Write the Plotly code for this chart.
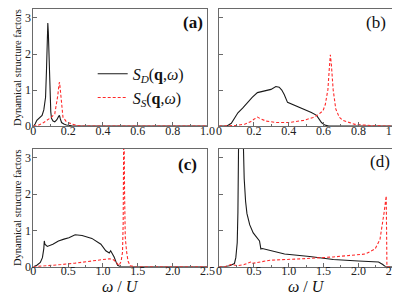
import plotly.graph_objects as go

# Panel (a)
xa_D = [0, 0.01, 0.02, 0.03, 0.05, 0.06, 0.07, 0.075, 0.08, 0.083, 0.086, 0.09, 0.095, 0.10, 0.104, 0.113, 0.123, 0.135, 0.145, 0.15, 0.155, 0.162, 0.175, 0.19, 0.22, 1.0]
ya_D = [0, 0.06, 0.16, 0.2, 0.3, 0.45, 0.8, 1.5, 2.5, 2.86, 2.6, 1.7, 0.9, 0.4, 0.22, 0.14, 0.12, 0.18, 0.27, 0.3, 0.2, 0.1, 0.06, 0.03, 0.01, 0.0]
xa_S = [0, 0.02, 0.05, 0.078, 0.104, 0.123, 0.132, 0.14, 0.147, 0.15, 0.153, 0.16, 0.17, 0.19, 0.225, 0.26, 0.3, 1.0]
ya_S = [0, 0.01, 0.07, 0.16, 0.25, 0.34, 0.57, 0.84, 1.15, 1.22, 1.1, 0.75, 0.25, 0.12, 0.05, 0.01, 0.0, 0.0]

# Panel (b)
xb_D = [0, 0.043, 0.07, 0.09, 0.108, 0.135, 0.164, 0.19, 0.22, 0.25, 0.298, 0.326, 0.345, 0.36, 0.374, 0.393, 0.44, 0.486, 0.53, 0.56, 0.575, 0.588, 0.607, 0.63, 1.0]
yb_D = [0, 0.0, 0.08, 0.25, 0.37, 0.5, 0.66, 0.8, 0.93, 0.96, 1.02, 1.1, 1.08, 1.0, 0.88, 0.66, 0.57, 0.48, 0.38, 0.3, 0.2, 0.1, 0.03, 0.0, 0.0]
xb_S = [0, 0.05, 0.1, 0.15, 0.18, 0.2, 0.22, 0.24, 0.27, 0.33, 0.40, 0.486, 0.54, 0.57, 0.597, 0.61, 0.625, 0.633, 0.639, 0.645, 0.655, 0.67, 0.69, 0.71, 0.78, 0.89, 1.0]
yb_S = [0, 0.0, 0.02, 0.06, 0.12, 0.19, 0.25, 0.2, 0.14, 0.1, 0.1, 0.16, 0.24, 0.32, 0.43, 0.6, 1.02, 1.6, 1.98, 1.7, 1.02, 0.48, 0.25, 0.16, 0.05, 0.01, 0.0]

# Panel (c)
xc_D = [0, 0.05, 0.1, 0.13, 0.15, 0.157, 0.165, 0.18, 0.2, 0.28, 0.36, 0.44, 0.51, 0.6, 0.70, 0.84, 0.97, 1.04, 1.09, 1.11, 1.13, 1.16, 1.19, 1.21, 1.25, 2.5]
yc_D = [0, 0.04, 0.12, 0.25, 0.5, 0.71, 0.62, 0.58, 0.56, 0.62, 0.71, 0.76, 0.8, 0.88, 0.86, 0.78, 0.62, 0.44, 0.38, 0.44, 0.38, 0.27, 0.12, 0.04, 0.0, 0.0]
xc_S = [0, 0.2, 0.4, 0.6, 0.8, 0.97, 1.09, 1.13, 1.16, 1.2, 1.23, 1.26, 1.28, 1.29, 1.3, 1.31, 1.32, 1.34, 1.36, 1.39, 1.45, 2.5]
yc_S = [0, 0.02, 0.06, 0.1, 0.15, 0.2, 0.22, 0.21, 0.18, 0.1, 0.03, 0.15, 0.4, 1.2, 4.5, 2.0, 0.8, 0.4, 0.15, 0.03, 0.0, 0.0]

# Panel (d)
xd_D = [0, 0.08, 0.15, 0.22, 0.24, 0.26, 0.27, 0.28, 0.29, 0.31, 0.33, 0.35, 0.36, 0.38, 0.40, 0.44, 0.49, 0.58, 0.60, 0.62, 0.94, 1.3, 1.64, 2.0, 2.29, 2.35, 2.39, 2.5]
yd_D = [0, 0.0, 0.03, 0.09, 0.25, 0.66, 1.5, 3.5, 8.0, 8.0, 5.0, 3.4, 2.43, 1.8, 1.46, 1.15, 0.93, 0.71, 0.49, 0.5, 0.35, 0.28, 0.2, 0.16, 0.13, 0.06, 0.0, 0.0]
xd_S = [0, 0.08, 0.17, 0.26, 0.36, 0.45, 0.47, 0.55, 0.73, 1.2, 1.64, 2.1, 2.24, 2.31, 2.34, 2.37, 2.40, 2.41, 2.5]
yd_S = [0, 0.0, 0.06, 0.03, 0.06, 0.13, 0.09, 0.12, 0.18, 0.22, 0.27, 0.35, 0.49, 0.75, 1.1, 1.5, 1.95, 0.0, 0.0]

top_ticks = [0, 0.2, 0.4, 0.6, 0.8, 1.0]
top_labels = ["0", "0.2", "0.4", "0.6", "0.8", "1.0"]
bot_ticks = [0, 0.5, 1.0, 1.5, 2.0, 2.5]
bot_labels = ["0", "0.5", "1.0", "1.5", "2.0", "2.5"]
y_ticks = [0, 1, 2, 3]
y_labels = ["0", "1", "2", "3"]

name_D = "<i>S</i><sub><i>D</i></sub>(<b>q</b>,<i>ω</i>)"
name_S = "<i>S</i><sub><i>S</i></sub>(<b>q</b>,<i>ω</i>)"

W, H = 400, 297
SERIF = "Liberation Serif"
black = "#1a1a1a"
red = "#ff2a2a"

fig = go.Figure()
panels = [
    (xa_D, ya_D, xa_S, ya_S, "x", "y", True),
    (xb_D, yb_D, xb_S, yb_S, "x2", "y2", False),
    (xc_D, yc_D, xc_S, yc_S, "x3", "y3", False),
    (xd_D, yd_D, xd_S, yd_S, "x4", "y4", False),
]
for xD, yD, xS, yS, xa, ya, show in panels:
    fig.add_trace(go.Scatter(x=xD, y=yD, mode="lines", xaxis=xa, yaxis=ya,
                             line=dict(color=black, width=1.1), name=name_D,
                             showlegend=show, cliponaxis=True))
    fig.add_trace(go.Scatter(x=xS, y=yS, mode="lines", xaxis=xa, yaxis=ya,
                             line=dict(color=red, width=1.1, dash="3px,2px"), name=name_S,
                             showlegend=show, cliponaxis=True))

def px_x(a, b):
    return [a / W, b / W]

def px_y(top, bottom):
    return [1 - bottom / H, 1 - top / H]

axis_common = dict(showline=True, mirror=True, linecolor="#6a6a6a", linewidth=1,
                   ticks="inside", ticklen=4, tickcolor="#6a6a6a", zeroline=False,
                   showgrid=False, tickfont=dict(family=SERIF, size=12, color="#222"))

xl = px_x(23, 202)
xr = px_x(214, 393)
yt = px_y(1, 121)
yb = px_y(144, 265)

minor_top = dict(ticks="inside", ticklen=2, tickvals=[0.1, 0.3, 0.5, 0.7, 0.9], tickcolor="#6a6a6a")
minor_bot = dict(ticks="inside", ticklen=2, tickvals=[0.25, 0.75, 1.25, 1.75, 2.25], tickcolor="#6a6a6a")

fig.update_layout(
    width=W, height=H, margin=dict(l=0, r=0, t=0, b=0),
    paper_bgcolor="white", plot_bgcolor="white",
    xaxis=dict(domain=xl, range=[0, 1.0], anchor="y", tickvals=top_ticks, ticktext=top_labels,
               ticklabelstandoff=-7, minor=minor_top, **axis_common),
    yaxis=dict(domain=yt, range=[0, 3.25], anchor="x", tickvals=y_ticks, ticktext=y_labels,
               ticklabelstandoff=-1, **axis_common),
    xaxis2=dict(domain=xr, range=[0, 1.0], anchor="y2", tickvals=top_ticks, ticktext=top_labels,
                ticklabelstandoff=-7, minor=minor_top, **axis_common),
    yaxis2=dict(domain=yt, range=[0, 3.25], anchor="x2", tickvals=y_ticks, showticklabels=False, **axis_common),
    xaxis3=dict(domain=xl, range=[0, 2.5], anchor="y3", tickvals=bot_ticks, ticktext=bot_labels,
                ticklabelstandoff=-7, minor=minor_bot, **axis_common),
    yaxis3=dict(domain=yb, range=[0, 3.25], anchor="x3", tickvals=y_ticks, ticktext=y_labels,
                ticklabelstandoff=-1, **axis_common),
    xaxis4=dict(domain=xr, range=[0, 2.5], anchor="y4", tickvals=bot_ticks, ticktext=bot_labels,
                ticklabelstandoff=-7, minor=minor_bot, **axis_common),
    yaxis4=dict(domain=yb, range=[0, 3.25], anchor="x4", tickvals=y_ticks, showticklabels=False, **axis_common),
    legend=dict(x=84 / W, y=1 - 50 / H, xanchor="left", yanchor="top",
                bgcolor="rgba(0,0,0,0)", font=dict(family=SERIF, size=16, color="#111"),
                tracegroupgap=4, itemwidth=30),
    showlegend=True,
)

ann = []
ylab = "Dynamical structure factors"
for yc in [(yt[0] + yt[1]) / 2, (yb[0] + yb[1]) / 2]:
    ann.append(dict(text=ylab, x=6.5 / W, y=yc, xref="paper", yref="paper", textangle=-90,
                    showarrow=False, xanchor="center", yanchor="middle",
                    font=dict(family=SERIF, size=10.5, color="#111")))
for xc in [(xl[0] + xl[1]) / 2, (xr[0] + xr[1]) / 2]:
    ann.append(dict(text="<i>ω</i> / <i>U</i>", x=xc, y=1 - 285 / H, xref="paper", yref="paper",
                    showarrow=False, xanchor="center", yanchor="middle",
                    font=dict(family=SERIF, size=16, color="#111")))
labels = [("<b>(a)</b>", 187, 15), ("(b)", 375, 15), ("<b>(c)</b>", 182, 160), ("(d)", 379, 157)]
for t, x, y in labels:
    ann.append(dict(text=t, x=x / W, y=1 - y / H, xref="paper", yref="paper", showarrow=False,
                    xanchor="center", yanchor="middle", font=dict(family=SERIF, size=17, color="#111")))
fig.update_layout(annotations=ann)

fig.write_html("out.html")
